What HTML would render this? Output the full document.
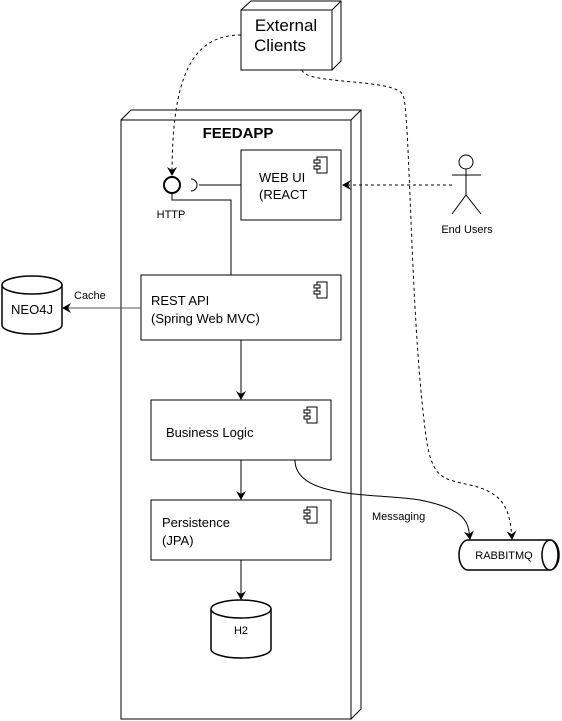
<!DOCTYPE html>
<html><head><style>body{margin:0;background:#fff}svg{display:block}text{font-family:"Liberation Sans",sans-serif}</style></head><body>
<svg width="562" height="721" viewBox="0 0 562 721">
<defs>
<marker id="a" markerWidth="10" markerHeight="10" refX="8" refY="5" orient="auto" markerUnits="userSpaceOnUse"><path d="M0,0 L9,5 L0,10 L3,5 Z" fill="#000"/></marker>
</defs>
<g fill="#fff" stroke="#000" stroke-width="1">
<!-- FEEDAPP node -->
<path d="M121,120 L131,110 L361,110 L361,709 L351,719 Z"/>
<rect x="121" y="120" width="230" height="599"/>
<path d="M351,120 L361,110" />
<!-- External Clients -->
<path d="M241,10 L251,1 L341,1 L341,61 L332,70 Z"/>
<rect x="241" y="10" width="91" height="60"/>
<path d="M332,10 L341,1"/>
</g>
<text x="238" y="138" font-size="15" font-weight="bold" text-anchor="middle">FEEDAPP</text>
<text x="286" y="31" font-size="17" text-anchor="middle">External</text>
<text x="280" y="51" font-size="17" text-anchor="middle">Clients</text>
<g fill="none" stroke="#000">
<!-- component boxes -->
<rect x="241" y="150" width="100" height="70" fill="#fff"/>
<rect x="141" y="275" width="200" height="65" fill="#fff"/>
<rect x="151" y="400" width="180" height="60" fill="#fff"/>
<rect x="151" y="500" width="180" height="60" fill="#fff"/>
</g>
<g fill="#fff" stroke="#000">
<rect x="317" y="157" width="10" height="16"/><rect x="314" y="160" width="6" height="3"/><rect x="314" y="166" width="6" height="3"/>
<rect x="317" y="282" width="10" height="16"/><rect x="314" y="285" width="6" height="3"/><rect x="314" y="291" width="6" height="3"/>
<rect x="307" y="407" width="10" height="16"/><rect x="304" y="410" width="6" height="3"/><rect x="304" y="416" width="6" height="3"/>
<rect x="307" y="507" width="10" height="16"/><rect x="304" y="510" width="6" height="3"/><rect x="304" y="516" width="6" height="3"/>
</g>
<g font-size="13">
<text x="259" y="182">WEB UI</text><text x="259" y="199">(REACT</text>
<text x="151" y="305">REST API</text><text x="151" y="323">(Spring Web MVC)</text>
<text x="166" y="437">Business Logic</text>
<text x="162" y="527">Persistence</text><text x="162" y="545">(JPA)</text>
</g>
<!-- HTTP interface -->
<circle cx="172" cy="185" r="8" fill="#fff" stroke="#000" stroke-width="2"/>
<path d="M191,179 A6,6 0 0 1 191,191" fill="none" stroke="#000"/>
<path d="M199,185 L241,185 M172,193 L172,200 L231,200 L231,275" fill="none" stroke="#000"/>
<text x="171" y="218" font-size="11" text-anchor="middle">HTTP</text>
<!-- arrows -->
<g stroke="#000" fill="none">
<path d="M241,340 L241,399" marker-end="url(#a)"/>
<path d="M241,460 L241,499" marker-end="url(#a)"/>
<path d="M241,560 L241,599" marker-end="url(#a)"/>
<path d="M141,308 L63,308" stroke="#555" marker-end="url(#a)"/>
<path d="M295,460 C295,500 380,493 420,500 C470,510 468,525 470,539" marker-end="url(#a)"/>
<path d="M241,35 C190,35 172,80 172,175" stroke-dasharray="3,3" marker-end="url(#a)"/>
<path d="M302,70 C305,85 395,78 403,95 C410,110 410,300 424,420 C430,480 440,478 470,485 C505,493 510,510 512,539" stroke-dasharray="3,3" marker-end="url(#a)"/>
<path d="M452,185 L343,185" stroke-dasharray="3,3" marker-end="url(#a)"/>
</g>
<text x="74" y="299" font-size="11">Cache</text>
<text x="372" y="520" font-size="11">Messaging</text>
<!-- NEO4J -->
<g fill="#fff" stroke="#000" stroke-width="1.5">
<path d="M2,285 L2,325 A30,9 0 0 0 62,325 L62,285"/>
<ellipse cx="32" cy="285" rx="30" ry="9"/>
<path d="M211,609 L211,649 A30,9 0 0 0 271,649 L271,609"/>
<ellipse cx="241" cy="609" rx="30" ry="9"/>
<path d="M468,540 L550,540 A9,15 0 0 1 550,570 L468,570 A9,15 0 0 1 468,540 Z"/>
<ellipse cx="550" cy="555" rx="8" ry="15"/>
</g>
<text x="32" y="314" font-size="13" text-anchor="middle">NEO4J</text>
<text x="241" y="634" font-size="11" text-anchor="middle">H2</text>
<text x="504" y="559" font-size="11" text-anchor="middle">RABBITMQ</text>
<!-- actor -->
<g stroke="#000" fill="#fff">
<circle cx="466" cy="162" r="7"/>
<path d="M466,169 L466,195 M452,175 L481,175 M452,214 L466,195 L481,214" fill="none"/>
</g>
<text x="467" y="233" font-size="11" text-anchor="middle">End Users</text>
</svg>
</body></html>
